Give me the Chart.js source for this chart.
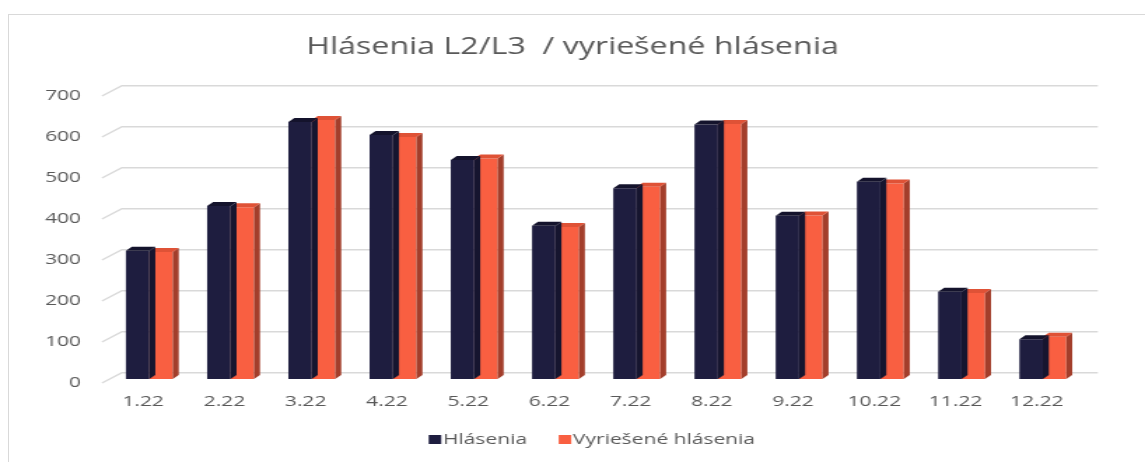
<!DOCTYPE html>
<html lang="sk">
<head>
<meta charset="utf-8">
<title>Hlásenia L2/L3 / vyriešené hlásenia</title>
<script src="https://cdn.jsdelivr.net/npm/chart.js@4/dist/chart.umd.min.js"></script>
<style>
  html, body { margin: 0; padding: 0; background: #ffffff; overflow: hidden; }
  #frame {
    position: absolute; left: 8px; top: 14px; width: 1160px; height: 470px;
    border-left: 1.5px solid #d9d9d9; border-top: 1.5px solid #d9d9d9;
  }
  /* the chart is laid out narrow and widened horizontally */
  #wrap {
    position: absolute; left: 0; top: 0; width: 818px; height: 462px;
    transform: scaleX(1.39976); transform-origin: 0 0;
  }
</style>
</head>
<body>
<div id="frame"></div>
<div id="wrap"><canvas id="chart"></canvas></div>
<script>
// Months of 2022
const categories = ['1.22', '2.22', '3.22', '4.22', '5.22', '6.22', '7.22', '8.22', '9.22', '10.22', '11.22', '12.22'];
// Reported tickets per month
const hlasenia = [313, 422, 627, 595, 534, 374, 465, 621, 398, 481, 213, 97];
// Resolved tickets per month
const vyriesene = [310, 419, 632, 590, 538, 371, 469, 622, 399, 477, 210, 103];
// Value axis ticks
const yTicks = [0, 100, 200, 300, 400, 500, 600, 700];

const seriesNames = ['Hlásenia', 'Vyriešené hlásenia'];
const chartTitle = 'Hlásenia L2/L3  / vyriešené hlásenia';
const TEXT = '#595959';
const FONT = "'Open Sans', 'Liberation Sans', sans-serif";

// depth of the pseudo-3D columns
const DX = 4.3, DY = 4;

// back-wall gridlines with the receding floor edge on the left
const wallGrid = {
  id: 'wallGrid',
  beforeDatasetsDraw(chart) {
    const { ctx, chartArea } = chart;
    const ys = chart.scales.y;
    ctx.save();
    ctx.strokeStyle = '#d9d9d9';
    ctx.lineWidth = 1.4;
    ys.ticks.forEach(t => {
      const py = ys.getPixelForValue(t.value);
      ctx.beginPath();
      ctx.moveTo(chartArea.left - 4.8, py + 4);
      ctx.lineTo(chartArea.left + 9.4, py - 6.3);
      ctx.lineTo(chartArea.right + 10.3, py - 6.3);
      ctx.stroke();
    });
    ctx.restore();
  }
};

// top and side faces of each column
const columnFaces = {
  id: 'columnFaces',
  afterDatasetDraw(chart, args) {
    const ctx = chart.ctx;
    const ds = chart.data.datasets[args.index];
    ctx.save();
    args.meta.data.forEach(bar => {
      const { x, y, base, width } = bar.getProps(['x', 'y', 'base', 'width'], true);
      const l = x - width / 2, r = x + width / 2;
      ctx.fillStyle = ds.sideColor;
      ctx.beginPath();
      ctx.moveTo(r, base);
      ctx.lineTo(r, y);
      ctx.lineTo(r + DX, y - DY);
      ctx.lineTo(r + DX, base - DY);
      ctx.closePath();
      ctx.fill();
      ctx.fillStyle = ds.topColor;
      ctx.beginPath();
      ctx.moveTo(l, y);
      ctx.lineTo(r, y);
      ctx.lineTo(r + DX, y - DY);
      ctx.lineTo(l + DX, y - DY);
      ctx.closePath();
      ctx.fill();
    });
    ctx.restore();
  }
};

// title centred on the whole canvas and a compact legend under the axis
const titleAndLegend = {
  id: 'titleAndLegend',
  afterDraw(chart) {
    const { ctx, chartArea } = chart;
    ctx.save();
    ctx.fillStyle = TEXT;
    ctx.textBaseline = 'middle';
    ctx.textAlign = 'center';
    ctx.font = '23px ' + FONT;
    ctx.fillText(chartTitle, chart.width / 2, 47.5);

    ctx.textAlign = 'left';
    const box = 9, gapText = 1.2, gapItem = 22.6, cy = 439.5;
    ctx.font = '15px ' + FONT;
    const items = chart.data.datasets.map(d => ({ label: d.label, color: d.backgroundColor, w: ctx.measureText(d.label).width }));
    const total = items.reduce((s, it) => s + box + gapText + it.w, 0) + gapItem * (items.length - 1);
    let x = (chartArea.left + chartArea.right) / 2 - 3 - total / 2;
    items.forEach(it => {
      ctx.fillStyle = it.color;
      ctx.fillRect(x, cy - box / 2, box, box);
      x += box + gapText;
      ctx.fillStyle = TEXT;
      ctx.fillText(it.label, x, cy);
      x += it.w + gapItem;
    });
    ctx.restore();
  }
};

new Chart(document.getElementById('chart'), {
  type: 'bar',
  data: {
    labels: categories,
    datasets: [
      { label: seriesNames[0], data: hlasenia, backgroundColor: '#1e1d3f', topColor: '#14132c', sideColor: '#16152f' },
      { label: seriesNames[1], data: vyriesene, backgroundColor: '#f95f41', topColor: '#df5236', sideColor: '#a33e2b' }
    ]
  },
  options: {
    responsive: true,
    maintainAspectRatio: false,
    animation: false,
    layout: { padding: { top: 92, left: 0, right: 44, bottom: 43 } },
    datasets: { bar: { categoryPercentage: 0.577, barPercentage: 1.0, borderWidth: 0 } },
    plugins: {
      legend: { display: false },
      tooltip: { enabled: false },
      title: { display: false }
    },
    scales: {
      x: {
        grid: { display: false, drawTicks: false },
        border: { display: false },
        ticks: { color: TEXT, font: { family: FONT, size: 15 }, padding: 14, labelOffset: -4.3, maxRotation: 0 },
        afterFit(scale) { scale.height = 40; }
      },
      y: {
        min: 0,
        max: yTicks[yTicks.length - 1],
        grid: { display: false, drawTicks: false },
        border: { display: false },
        afterBuildTicks(scale) { scale.ticks = yTicks.map(v => ({ value: v })); },
        ticks: { color: TEXT, font: { family: FONT, size: 15 }, padding: 19.7, labelOffset: 4 },
        afterFit(scale) { scale.width = 77.65; }
      }
    }
  },
  plugins: [wallGrid, columnFaces, titleAndLegend]
});
</script>
</body>
</html>
